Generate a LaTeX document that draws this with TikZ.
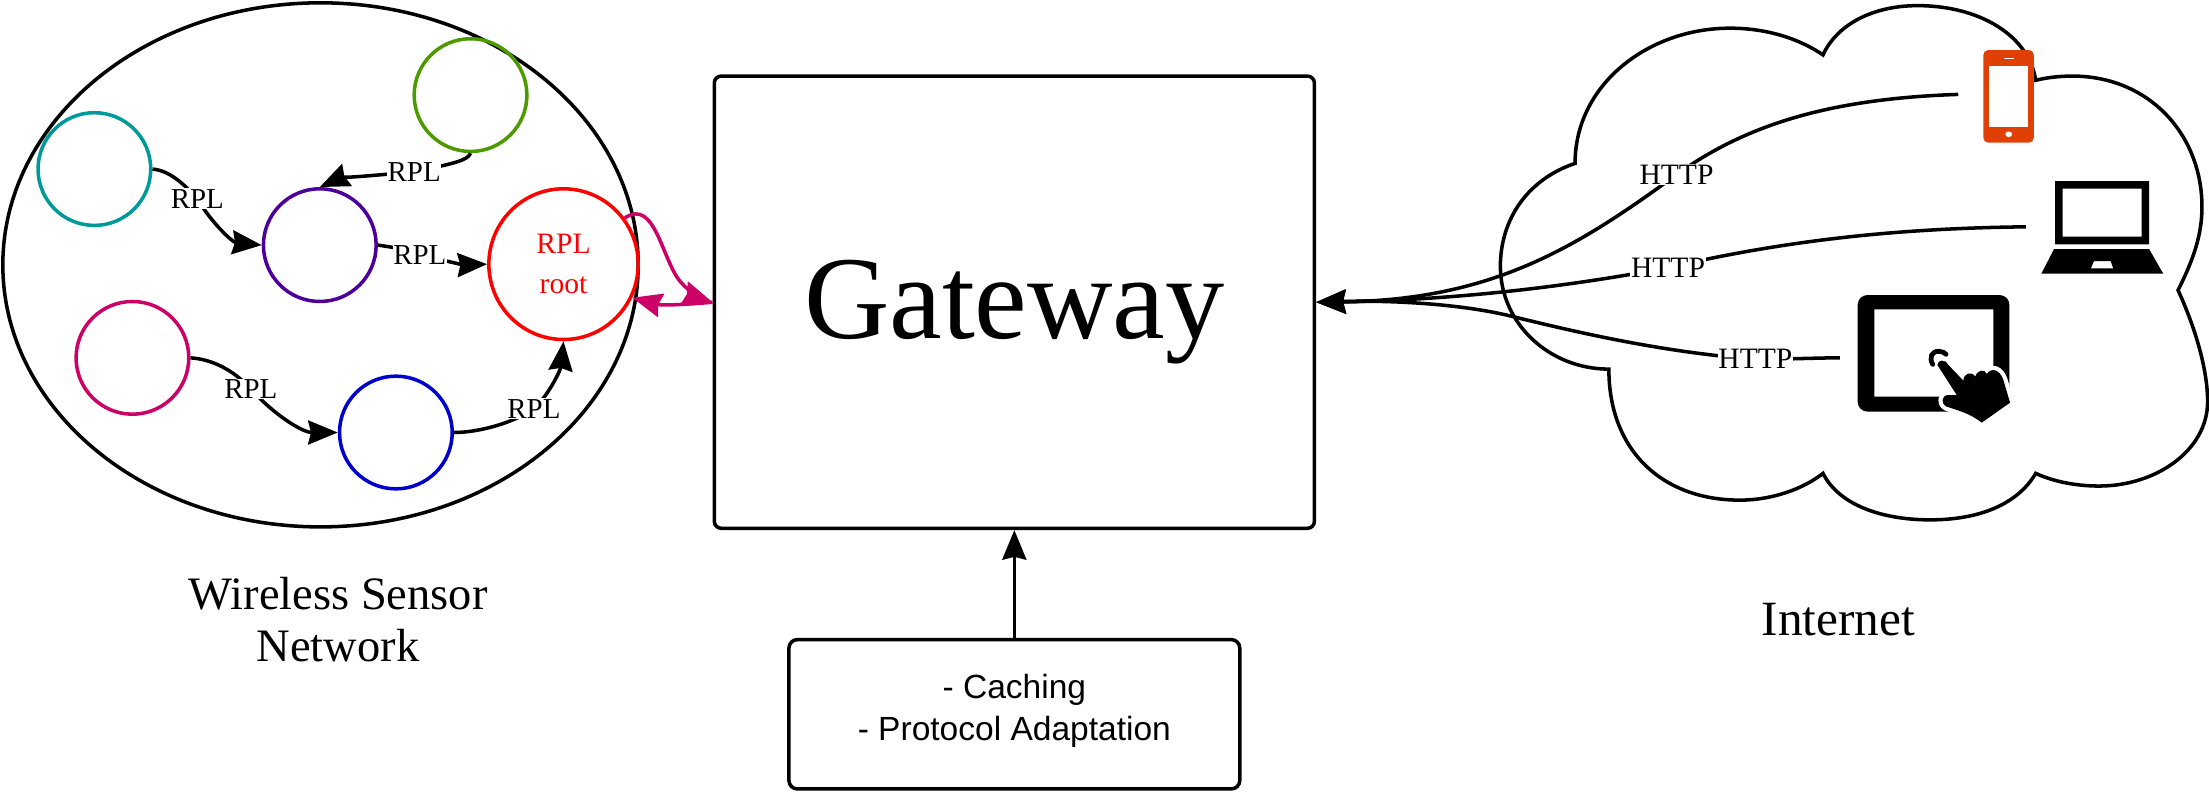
\documentclass[tikz,border=0pt]{standalone}
\usepackage{fontspec}
\setmainfont{Liberation Serif}
\newfontfamily\sansf{Liberation Sans}
\usetikzlibrary{arrows.meta,shapes.geometric}
\definecolor{cteal}{HTML}{009999}
\definecolor{cgreen}{HTML}{4D9900}
\definecolor{cpurple}{HTML}{4C0099}
\definecolor{cpink}{HTML}{CC0066}
\definecolor{cblue}{HTML}{0000CC}
\definecolor{cphone}{HTML}{E04006}
\tikzset{
  x=1pt,y=-1pt,
  lw/.style={line width=2.5pt},
  sensor/.style={circle,draw,lw,inner sep=0pt,minimum size=80pt},
  rootnode/.style={ellipse,draw=red,lw,inner sep=0pt,minimum width=106pt,minimum height=107pt,text=red,align=center,font=\fontsize{21}{28}\selectfont},
  lbl/.style={fill=white,inner sep=0.5pt,font=\fontsize{20.5}{24}\selectfont},
  hlbl/.style={fill=white,inner sep=0.5pt,font=\fontsize{21}{24}\selectfont},
  caption/.style={align=center,font=\fontsize{33}{37}\selectfont},
  conn/.style={lw,-{Stealth[length=21pt,width=17pt,inset=2pt]}},
  gatebox/.style={draw,lw,rounded corners=5pt,inner sep=0pt},
}
\begin{document}
\begin{tikzpicture}
\useasboundingbox (0,0) rectangle (1568,562.2);
% wireless sensor network
\node[ellipse,draw,lw,inner sep=0pt,minimum width=451pt,minimum height=372pt] (wsn) at (227.5,188) {};
\node[sensor,draw=cgreen] (green) at (334,67.5) {};
\node[sensor,draw=cteal] (teal) at (67,120) {};
\node[sensor,draw=cpurple] (purple) at (227,174) {};
\node[sensor,draw=cpink] (pink) at (94,254) {};
\node[sensor,draw=cblue] (blue) at (281,307) {};
\node[rootnode] (root) at (400,187.5) {RPL\\root};
% boxes
\node[gatebox,minimum width=426pt,minimum height=321pt,font=\fontsize{84}{90}\selectfont] (gateway) at (720,214.5) {\raisebox{-25.5pt}[0pt][0pt]{Gateway}};
\node[gatebox,rounded corners=6pt,minimum width=320pt,minimum height=106pt,align=center,font=\sansf\fontsize{23.8}{30}\selectfont] (cache) at (720,507) {- Caching\\- Protocol Adaptation\rule[-10pt]{0pt}{0pt}};
% RPL connectors
\draw[conn] (teal.east) .. controls (120,121) and (130,130) .. (140,141) node[lbl] (l1) {RPL} .. controls (150,158) and (165,172) .. (purple.west);
\draw[conn] (green.south) .. controls (332,114) and (322,116) .. (294,122) node[lbl] (l2) {RPL} .. controls (270,124) and (240,127) .. (purple.north);
\draw[conn] (purple.east) .. controls (275,175) and (285,176) .. (298,181) node[lbl] (l3) {RPL} .. controls (315,185) and (330,188) .. (root.west);
\draw[conn] (pink.east) .. controls (150,255) and (165,262) .. (178,276) node[lbl] (l4) {RPL} .. controls (195,295) and (215,307) .. (blue.west);
\draw[conn] (blue.east) .. controls (340,307) and (365,300) .. (379,290) node[lbl] (l5) {RPL} .. controls (390,280) and (398,262) .. (root.south);
% magenta links
\draw[conn,draw=cpink] (root.37) .. controls (465,140) and (470,185) .. (483,200) .. controls (490,208) and (498,212) .. (gateway.west);
\draw[conn,draw=cpink] (gateway.west) .. controls (490,216) and (470,217) .. (root.-26);
% cache to gateway
\draw[conn] (cache.north) -- (gateway.south);
% captions
\node[caption] (wsncap) at (240,439.5) {Wireless Sensor\\Network};
\node[caption,font=\fontsize{35}{37}\selectfont] (inetcap) at (1305,440) {Internet};
% cloud
\draw[lw,miter limit=10] (1118,116) .. controls (1118,60) and (1170,20) .. (1228,20) .. controls (1255,20) and (1278,28) .. (1294,39)
  .. controls (1304,17) and (1330,4) .. (1361,4) .. controls (1405,4) and (1440,25) .. (1445,57)
  .. controls (1453,55) and (1462,54) .. (1471,54) .. controls (1525,54) and (1563,95) .. (1563,147) .. controls (1563,168) and (1556,186) .. (1546,206)
  .. controls (1558,232) and (1567,262) .. (1567,285) .. controls (1567,320) and (1530,345) .. (1490,345) .. controls (1474,345) and (1458,342) .. (1445,336)
  .. controls (1432,358) and (1405,369) .. (1370,369) .. controls (1335,369) and (1305,358) .. (1294,336)
  .. controls (1280,347) and (1258,355) .. (1235,355) .. controls (1180,355) and (1142,320) .. (1142,262)
  .. controls (1100,262) and (1065,230) .. (1065,189) .. controls (1065,155) and (1085,127) .. (1118,116) -- cycle;
% end points of the HTTP links
\coordinate (phonept) at (1390,67);
\coordinate (laptoppt) at (1438,161);
\coordinate (tabletpt) at (1306,254);
\draw[conn] (phonept) .. controls (1300,70) and (1240,88) .. (1190,124) node[hlbl] (h1) {HTTP} .. controls (1120,175) and (1060,213) .. (gateway.east);
\draw[conn] (laptoppt) .. controls (1350,162) and (1270,170) .. (1184,190) node[hlbl] (h2) {HTTP} .. controls (1110,204) and (1030,213) .. (gateway.east);
\draw[conn] (tabletpt) .. controls (1290,254) and (1270,255) .. (1246,255) node[hlbl] (h3) {HTTP} .. controls (1180,250) and (1120,236) .. (1075,225) .. controls (1040,216) and (990,213) .. (gateway.east);
% phone
\fill[cphone,rounded corners=3.5pt] (1407.8,35.5) rectangle (1443.6,101.3);
\fill[white] (1411.6,46.9) rectangle (1439.3,90.1);
\fill[white] (1422.8,40.9) rectangle (1429.4,41.9);
\fill[white] (1425.8,95.3) ellipse [x radius=2.4pt,y radius=2pt];
% laptop
\fill[even odd rule] (1458.7,128.5) rectangle (1525.5,173.4) (1464.1,133.9) rectangle (1520.2,168);
\fill[even odd rule] (1458,176.8) -- (1525.5,176.8) -- (1535.5,194.2) -- (1449,194.2) -- cycle
  (1486.3,185.3) -- (1498.2,185.3) -- (1500,190.5) -- (1484.2,190.5) -- cycle;
% tablet
\fill[even odd rule,rounded corners=0pt] (1325.6,209.4) -- (1419.3,209.4) arc[start angle=90,end angle=0,radius=7pt] -- (1426.3,285.2) arc[start angle=0,end angle=-90,radius=7pt] -- (1325.6,292.2) arc[start angle=-90,end angle=-180,radius=7pt] -- (1318.6,216.4) arc[start angle=180,end angle=90,radius=7pt] -- cycle
  (1330.4,219.6) rectangle (1414.9,281.6);
% hand
\begin{scope}[shift={(1313.2,21.3)},x=0.2366pt,y=-0.2366pt]
  \def\handpath{(262,1005) .. controls (262,990) and (285,985) .. (295,1005) -- (340,1052) .. controls (340,1030) and (365,1022) .. (376,1040)
    .. controls (380,1020) and (405,1015) .. (410,1032) .. controls (425,1010) and (450,1020) .. (460,1050) -- (480,1118) -- (395,1178)
    .. controls (360,1150) and (320,1140) .. (290,1130) .. controls (270,1120) and (275,1095) .. (295,1095) -- (320,1095) -- cycle}
  \draw[white,line width=6pt,line join=round,fill=white] \handpath;
  \fill[black] \handpath;
  \draw[line width=3.4pt,line cap=round] (248,1003) .. controls (236,983) and (245,962) .. (268,964) .. controls (278,965) and (284,968) .. (288,973);
\end{scope}
\end{tikzpicture}
\end{document}
